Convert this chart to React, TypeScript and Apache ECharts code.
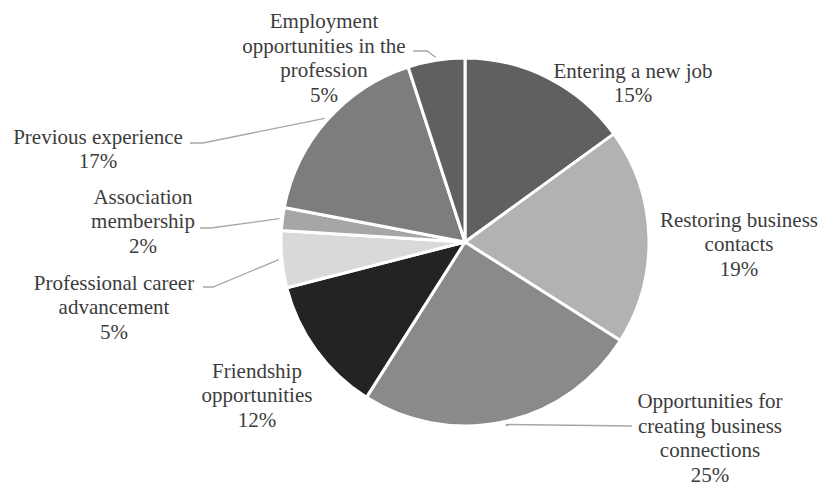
import React, { useEffect, useRef } from "react";
import * as echarts from "echarts";

const categories = [
  "Entering a new job",
  "Restoring business\ncontacts",
  "Opportunities for\ncreating business\nconnections",
  "Friendship\nopportunities",
  "Professional career\nadvancement",
  "Association\nmembership",
  "Previous experience",
  "Employment\nopportunities in the\nprofession",
];
const values = [15, 19, 25, 12, 5, 2, 17, 5];
const colors = ["#606060", "#b2b2b2", "#8a8a8a", "#232323", "#d9d9d9", "#a6a6a6", "#7d7d7d", "#606060"];

// layout (pixels)
const CX = 465;
const CY = 242;
const R = 184;
const ANCHOR_R = 187;
const labelCenters = [
  [633, 83],
  [739, 244],
  [710, 438],
  [257, 395],
  [114, 307],
  [143, 221],
  [98, 149],
  [324, 58],
];
const leaderLabelSide: (number[][] | null)[] = [
  null,
  null,
  [[632, 426]],
  null,
  [[203, 287], [213, 287]],
  [[200, 228], [211, 228]],
  [[190, 143], [203, 143]],
  [[413, 51], [427, 51]],
];

const FONT = "'Liberation Serif', 'Times New Roman', serif";

function anchorOf(i: number) {
  const total = values.reduce((a, b) => a + b, 0);
  let cum = 0;
  for (let k = 0; k < i; k++) cum += values[k];
  const f = (cum + values[i] / 2) / total;
  const t = f * Math.PI * 2;
  return [CX + ANCHOR_R * Math.sin(t), CY - ANCHOR_R * Math.cos(t)];
}

export default function App() {
  const ref = useRef<HTMLDivElement>(null);
  useEffect(() => {
    if (!ref.current) return;
    const chart = echarts.init(ref.current, undefined, { renderer: "svg" });
    chart.setOption({
      animation: false,
      backgroundColor: "#ffffff",
      series: [
        {
          type: "pie",
          center: [CX, CY],
          radius: R,
          startAngle: 90,
          clockwise: true,
          avoidLabelOverlap: false,
          silent: true,
          itemStyle: { borderColor: "#ffffff", borderWidth: 3 },
          label: {
            show: true,
            formatter: (p: any) => `${p.name}\n${p.value}%`,
            fontFamily: FONT,
            fontSize: 21,
            lineHeight: 24.5,
            color: "#3c3c3c",
            align: "center",
          },
          labelLine: {
            show: true,
            lineStyle: { color: "#a6a6a6", width: 1.3 },
          },
          labelLayout: (params: any) => {
            const i = params.dataIndex;
            const c = labelCenters[i];
            const side = leaderLabelSide[i];
            const out: any = { x: c[0], y: c[1], align: "center", verticalAlign: "middle" };
            if (side) {
              out.labelLinePoints = [...side, anchorOf(i)];
            }
            return out;
          },
          data: values.map((v, i) => ({
            name: categories[i],
            value: v,
            itemStyle: { color: colors[i] },
            labelLine: { show: !!leaderLabelSide[i] },
          })),
        },
      ],
    });
    return () => chart.dispose();
  }, []);
  return (
    <div
      ref={ref}
      style={{ position: "fixed", left: 0, top: 0, width: 821, height: 486, background: "#fff" }}
    />
  );
}
